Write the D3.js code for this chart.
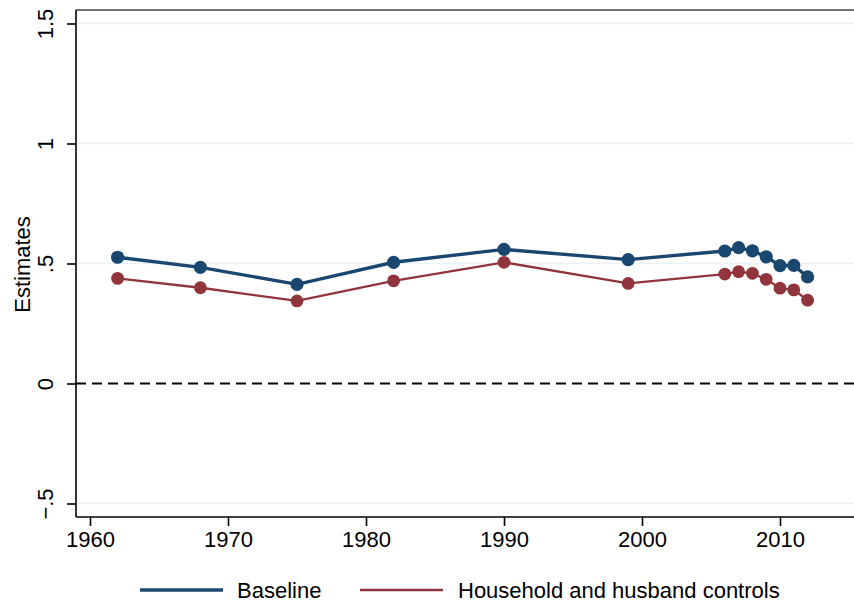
<!DOCTYPE html>
<html>
<head>
<meta charset="utf-8">
<script src="https://cdn.jsdelivr.net/npm/d3@7"></script>
<style>
  html, body { margin: 0; padding: 0; background: #fff; }
  svg { display: block; font-family: "Liberation Sans", Arial, Helvetica, sans-serif; }
</style>
</head>
<body>
<svg id="chart" width="854" height="602"></svg>
<script>
// Survey years
const years = [1962, 1968, 1975, 1982, 1990, 1999, 2006, 2007, 2008, 2009, 2010, 2011, 2012];
// Point estimates by specification
const baseline = [0.526, 0.484, 0.413, 0.505, 0.559, 0.516, 0.552, 0.566, 0.553, 0.528, 0.491, 0.492, 0.444];
const household = [0.438, 0.399, 0.344, 0.428, 0.505, 0.417, 0.456, 0.466, 0.459, 0.434, 0.397, 0.390, 0.347];
// Axis ticks
const xTicks = [1960, 1970, 1980, 1990, 2000, 2010];
const yTicks = [-0.5, 0, 0.5, 1, 1.5];
const yTickLabels = ["\u2212.5", "0", ".5", "1", "1.5"];
const seriesNames = ["Baseline", "Household and husband controls"];

const colors = ["#1a476f", "#90353b"];
const fontSize = 22;

const svg = d3.select("#chart");
const plot = { left: 76, right: 870, top: 10, bottom: 517 };

const x = d3.scaleLinear().domain([1960, 2010]).range([90, 780]);
const y = d3.scaleLinear().domain([0, 1.5]).range([383.5, 23.5]);

// Grid lines
svg.append("g").selectAll("line")
  .data(yTicks.filter(d => d !== 0))
  .join("line")
  .attr("x1", plot.left).attr("x2", plot.right)
  .attr("y1", d => y(d)).attr("y2", d => y(d))
  .attr("stroke", "#eaf2f3").attr("stroke-width", 1.6);

// Frame (top edge)
svg.append("line")
  .attr("x1", plot.left).attr("x2", plot.right)
  .attr("y1", plot.top).attr("y2", plot.top)
  .attr("stroke", "#444").attr("stroke-width", 1.6);

// Y axis
const yAxis = d3.axisLeft(y).tickValues(yTicks).tickSize(9)
  .tickFormat((d, i) => yTickLabels[i]);
const gy = svg.append("g").attr("transform", `translate(${plot.left},0)`).call(yAxis);
gy.select(".domain").attr("d", `M0,${plot.top}V${plot.bottom}`).attr("stroke", "#000").attr("stroke-width", 1.6);
gy.selectAll(".tick line").attr("stroke", "#000").attr("stroke-width", 1.6);
gy.selectAll(".tick text")
  .attr("font-size", fontSize).attr("fill", "#000")
  .attr("text-anchor", "middle")
  .attr("x", null).attr("dy", null)
  .attr("transform", "translate(-23,0) rotate(-90)");

// X axis
const xAxis = d3.axisBottom(x).tickValues(xTicks).tickSize(9).tickFormat(d3.format("d"));
const gx = svg.append("g").attr("transform", `translate(0,${plot.bottom})`).call(xAxis);
gx.select(".domain").attr("d", `M${plot.left},0H${plot.right}`).attr("stroke", "#000").attr("stroke-width", 1.6);
gx.selectAll(".tick line").attr("stroke", "#000").attr("stroke-width", 1.6);
gx.selectAll(".tick text")
  .attr("font-size", fontSize).attr("fill", "#000")
  .attr("y", 30).attr("dy", null);

// Y axis title
svg.append("text")
  .attr("transform", `translate(30,${(y(-0.5) + y(1.5)) / 2 + 1}) rotate(-90)`)
  .attr("text-anchor", "middle")
  .attr("font-size", fontSize)
  .text("Estimates");

// Zero reference line
svg.append("line")
  .attr("x1", plot.left).attr("x2", plot.right)
  .attr("y1", y(0)).attr("y2", y(0))
  .attr("stroke", "#000").attr("stroke-width", 2)
  .attr("stroke-dasharray", "10,6");

// Series
const series = [baseline, household];
const widths = [3.4, 2.3];
const radii = [6.6, 6.4];
series.forEach((vals, s) => {
  const pts = years.map((yr, i) => [yr, vals[i]]);
  svg.append("path")
    .datum(pts)
    .attr("fill", "none")
    .attr("stroke", colors[s])
    .attr("stroke-width", widths[s])
    .attr("d", d3.line().x(d => x(d[0])).y(d => y(d[1])));
  svg.append("g").selectAll("circle")
    .data(pts)
    .join("circle")
    .attr("cx", d => x(d[0])).attr("cy", d => y(d[1]))
    .attr("r", radii[s])
    .attr("fill", colors[s]);
});

// Legend
const legend = [
  { x0: 140, x1: 223, tx: 237 },
  { x0: 360, x1: 443, tx: 458 }
];
legend.forEach((l, i) => {
  svg.append("line")
    .attr("x1", l.x0).attr("x2", l.x1)
    .attr("y1", 590).attr("y2", 590)
    .attr("stroke", colors[i]).attr("stroke-width", widths[i]);
  svg.append("text")
    .attr("x", l.tx).attr("y", 598)
    .attr("font-size", fontSize)
    .text(seriesNames[i]);
});
</script>
</body>
</html>
